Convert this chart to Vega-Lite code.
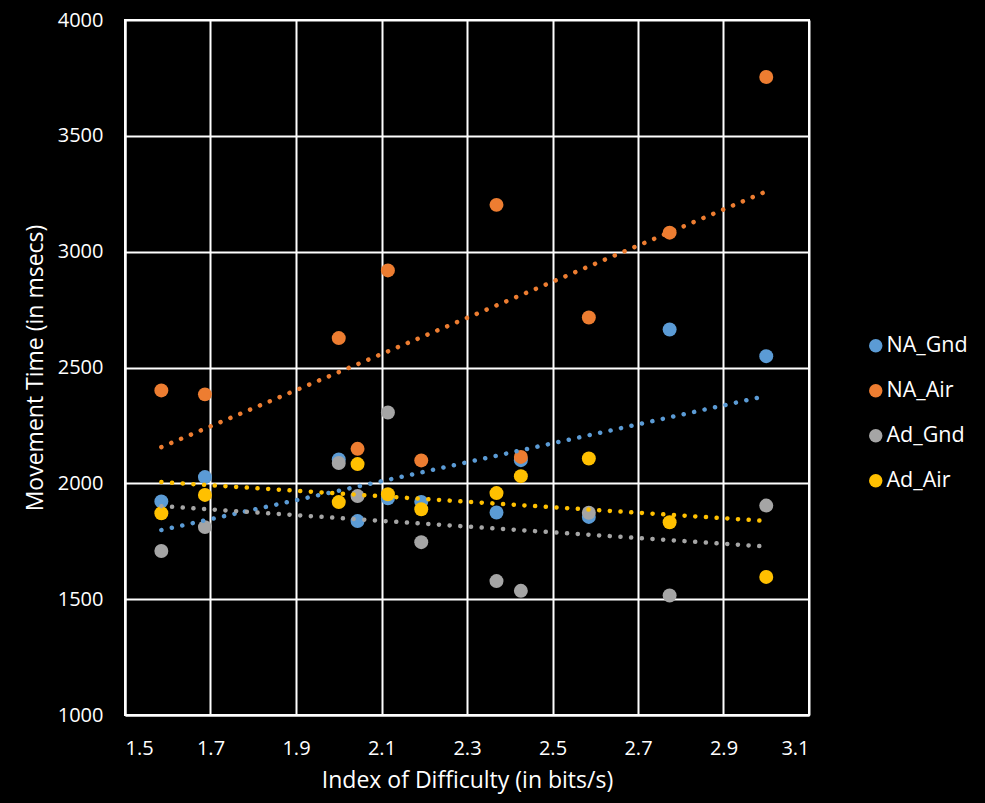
{
  "$schema": "https://vega.github.io/schema/vega-lite/v6.json",
  "autosize": {"type": "none"},
  "width": 684,
  "height": 695,
  "padding": {"left": 125, "top": 20, "right": 176, "bottom": 88},
  "background": "black",
  "config": {
    "view": {"stroke": "white", "strokeWidth": 2},
    "font": "Open Sans",
    "axis": {
      "labelColor": "white",
      "titleColor": "white",
      "gridColor": "white",
      "gridWidth": 2,
      "gridOpacity": 1,
      "domainColor": "white",
      "domainWidth": 2,
      "ticks": false,
      "labelFont": "Open Sans",
      "titleFont": "Open Sans",
      "labelFontSize": 20,
      "titleFontSize": 23,
      "titleFontWeight": "normal"
    },
    "legend": {
      "labelColor": "white",
      "labelFont": "Open Sans",
      "labelFontSize": 21.5
    }
  },
  "data": {
    "values": [
      {"series": "NA_Gnd", "id": 1.585, "mt": 1922},
      {"series": "NA_Gnd", "id": 1.687, "mt": 2027},
      {"series": "NA_Gnd", "id": 2.0, "mt": 2103},
      {"series": "NA_Gnd", "id": 2.044, "mt": 1837},
      {"series": "NA_Gnd", "id": 2.115, "mt": 1935},
      {"series": "NA_Gnd", "id": 2.193, "mt": 1920},
      {"series": "NA_Gnd", "id": 2.369, "mt": 1874},
      {"series": "NA_Gnd", "id": 2.426, "mt": 2100},
      {"series": "NA_Gnd", "id": 2.585, "mt": 1855},
      {"series": "NA_Gnd", "id": 2.774, "mt": 2664},
      {"series": "NA_Gnd", "id": 3.0, "mt": 2549},
      {"series": "NA_Air", "id": 1.585, "mt": 2401},
      {"series": "NA_Air", "id": 1.687, "mt": 2384},
      {"series": "NA_Air", "id": 2.0, "mt": 2627},
      {"series": "NA_Air", "id": 2.044, "mt": 2149},
      {"series": "NA_Air", "id": 2.115, "mt": 2919},
      {"series": "NA_Air", "id": 2.193, "mt": 2099},
      {"series": "NA_Air", "id": 2.369, "mt": 3202},
      {"series": "NA_Air", "id": 2.426, "mt": 2114},
      {"series": "NA_Air", "id": 2.585, "mt": 2716},
      {"series": "NA_Air", "id": 2.774, "mt": 3082},
      {"series": "NA_Air", "id": 3.0, "mt": 3754},
      {"series": "Ad_Gnd", "id": 1.585, "mt": 1708},
      {"series": "Ad_Gnd", "id": 1.687, "mt": 1811},
      {"series": "Ad_Gnd", "id": 2.0, "mt": 2088},
      {"series": "Ad_Gnd", "id": 2.044, "mt": 1945},
      {"series": "Ad_Gnd", "id": 2.115, "mt": 2306},
      {"series": "Ad_Gnd", "id": 2.193, "mt": 1746},
      {"series": "Ad_Gnd", "id": 2.369, "mt": 1578},
      {"series": "Ad_Gnd", "id": 2.426, "mt": 1536},
      {"series": "Ad_Gnd", "id": 2.585, "mt": 1873},
      {"series": "Ad_Gnd", "id": 2.774, "mt": 1516},
      {"series": "Ad_Gnd", "id": 3.0, "mt": 1904},
      {"series": "Ad_Air", "id": 1.585, "mt": 1871},
      {"series": "Ad_Air", "id": 1.687, "mt": 1950},
      {"series": "Ad_Air", "id": 2.0, "mt": 1919},
      {"series": "Ad_Air", "id": 2.044, "mt": 2083},
      {"series": "Ad_Air", "id": 2.115, "mt": 1953},
      {"series": "Ad_Air", "id": 2.193, "mt": 1888},
      {"series": "Ad_Air", "id": 2.369, "mt": 1958},
      {"series": "Ad_Air", "id": 2.426, "mt": 2031},
      {"series": "Ad_Air", "id": 2.585, "mt": 2107},
      {"series": "Ad_Air", "id": 2.774, "mt": 1832},
      {"series": "Ad_Air", "id": 3.0, "mt": 1596}
    ]
  },
  "encoding": {
    "x": {
      "field": "id", "type": "quantitative",
      "scale": {"domain": [1.5, 3.1], "nice": false, "zero": false},
      "axis": {"values": [1.5, 1.7, 1.9, 2.1, 2.3, 2.5, 2.7, 2.9, 3.1], "format": ".1f", "labelPadding": 23, "title": "Index of Difficulty (in bits/s)", "titlePadding": 11}
    },
    "y": {
      "field": "mt", "type": "quantitative",
      "scale": {"domain": [1000, 4000], "nice": false, "zero": false},
      "axis": {"values": [1000, 1500, 2000, 2500, 3000, 3500, 4000], "format": "d", "labelPadding": 22, "title": "Movement Time (in msecs)", "titlePadding": 10}
    },
    "color": {
      "field": "series", "type": "nominal",
      "scale": {"domain": ["NA_Gnd", "NA_Air", "Ad_Gnd", "Ad_Air"], "range": ["#5B9BD5", "#ED7D31", "#A5A5A5", "#FFC000"]}
    }
  },
  "resolve": {"legend": {"color": "independent"}},
  "layer": [
    {
      "mark": {"type": "point", "filled": true, "shape": "circle", "size": 195, "opacity": 1},
      "encoding": {
        "color": {
          "field": "series", "type": "nominal",
          "legend": {
            "title": null, "orient": "none", "legendX": 740, "legendY": 315,
            "padding": 0, "symbolType": "circle", "symbolSize": 180, "symbolOpacity": 1,
            "rowPadding": 22, "labelOffset": 0
          }
        }
      }
    },
    {
      "transform": [
        {"regression": "mt", "on": "id", "groupby": ["series"], "method": "linear", "extent": [1.585, 3.0]}
      ],
      "mark": {"type": "line", "strokeWidth": 4.5, "strokeCap": "round", "strokeDash": [0.1, 10.6]},
      "encoding": {
        "color": {"field": "series", "type": "nominal", "legend": null}
      }
    }
  ]
}
